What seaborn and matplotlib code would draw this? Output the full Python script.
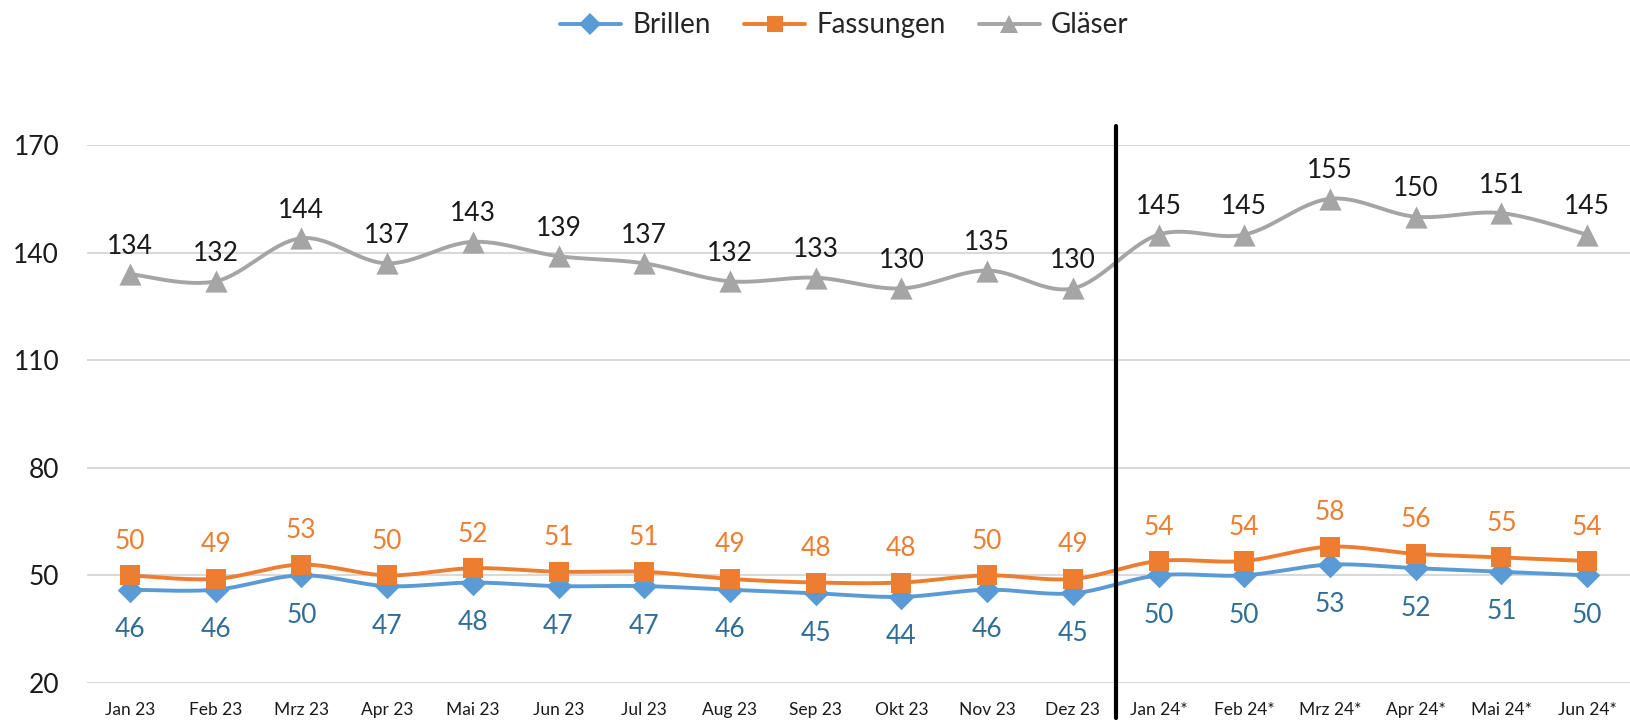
import matplotlib
matplotlib.use("Agg")
import matplotlib.pyplot as plt
import numpy as np
import pandas as pd
import seaborn as sns

months = ["Jan 23", "Feb 23", "Mrz 23", "Apr 23", "Mai 23", "Jun 23", "Jul 23", "Aug 23",
          "Sep 23", "Okt 23", "Nov 23", "Dez 23", "Jan 24*", "Feb 24*", "Mrz 24*", "Apr 24*",
          "Mai 24*", "Jun 24*"]
brillen = [46, 46, 50, 47, 48, 47, 47, 46, 45, 44, 46, 45, 50, 50, 53, 52, 51, 50]
fassungen = [50, 49, 53, 50, 52, 51, 51, 49, 48, 48, 50, 49, 54, 54, 58, 56, 55, 54]
glaeser = [134, 132, 144, 137, 143, 139, 137, 132, 133, 130, 135, 130, 145, 145, 155, 150, 151, 145]
y_ticks = [20, 50, 80, 110, 140, 170]


def smooth(y, n=30):
    # Catmull-Rom style bezier like Excel's smoothed line
    y = np.asarray(y, float)
    x = np.arange(len(y), dtype=float)
    xs, ys = [], []
    for i in range(len(y) - 1):
        p0 = (x[i - 1], y[i - 1]) if i > 0 else (x[i], y[i])
        p1 = (x[i], y[i])
        p2 = (x[i + 1], y[i + 1])
        p3 = (x[i + 2], y[i + 2]) if i + 2 < len(y) else (x[i + 1], y[i + 1])
        c1 = (p1[0] + (p2[0] - p0[0]) / 6, p1[1] + (p2[1] - p0[1]) / 6)
        c2 = (p2[0] - (p3[0] - p1[0]) / 6, p2[1] - (p3[1] - p1[1]) / 6)
        t = np.linspace(0, 1, n, endpoint=(i == len(y) - 2))
        for k in range(2):
            pts = [p1[k], c1[k], c2[k], p2[k]]
            v = ((1 - t) ** 3 * pts[0] + 3 * (1 - t) ** 2 * t * pts[1]
                 + 3 * (1 - t) * t ** 2 * pts[2] + t ** 3 * pts[3])
            (xs if k == 0 else ys).append(v)
    return np.concatenate(xs), np.concatenate(ys)


sns.set_theme(style="white")
plt.rcParams['font.family'] = ['Lato', 'DejaVu Sans']

fig = plt.figure(figsize=(16.3, 7.25), dpi=100)
ax = fig.add_axes([0.0534, 0.058, 0.9466, 0.742])

series = [
    ("Brillen", brillen, "#5B9BD5", "D", 13, "#2F6E98", "below"),
    ("Fassungen", fassungen, "#ED7D31", "s", 14, "#ED7D31", "above"),
    ("Gläser", glaeser, "#A5A5A5", "^", 16, "#1A1A1A", "above"),
]

handles = []
for name, vals, col, mk, ms, lcol, pos in series:
    sx, sy = smooth(vals)
    sns.lineplot(x=sx, y=sy, ax=ax, color=col, linewidth=2.8, sort=False, zorder=3)
    df = pd.DataFrame({"x": np.arange(len(vals)), "y": vals})
    sns.scatterplot(data=df, x="x", y="y", ax=ax, color=col, marker=mk, s=ms ** 2,
                    linewidth=0, zorder=4)
    off = -40 if pos == "below" else (34 if name == "Fassungen" else 28)
    for i, v in enumerate(vals):
        ax.annotate(str(v), (i, v), xytext=(0, off), textcoords="offset pixels",
                    ha="center", va="center", fontsize=19, color=lcol)
    handles.append(plt.Line2D([], [], color=col, lw=2.8, marker=mk, markersize=ms * 0.85,
                              markeredgewidth=0, label=name))

ax.axvline(11.5, ymin=-0.065, ymax=1.035, color="black", lw=3, clip_on=False, zorder=5)

ax.set_xlim(-0.5, len(months) - 0.5)
ax.set_ylim(20, 170)
ax.set_yticks(y_ticks)
ax.set_yticklabels([str(t) for t in y_ticks], fontsize=19, color="#1A1A1A")
ax.set_xticks(range(len(months)))
ax.set_xticklabels(months, fontsize=12.5, color="#1A1A1A")
ax.tick_params(axis="y", length=0, pad=20)
ax.tick_params(axis="x", length=0, pad=14)
ax.grid(axis="y", color="#D9D9D9", lw=1.5)
ax.grid(axis="x", visible=False)
for s in ax.spines.values():
    s.set_visible(False)
ax.set_xlabel("")
ax.set_ylabel("")

fig.legend(handles=handles, loc="center", bbox_to_anchor=(0.518, 0.965), ncol=3, frameon=False,
           fontsize=20, handlelength=2.2, columnspacing=1.2, handletextpad=0.4)

fig.savefig("out.png", dpi=100)
